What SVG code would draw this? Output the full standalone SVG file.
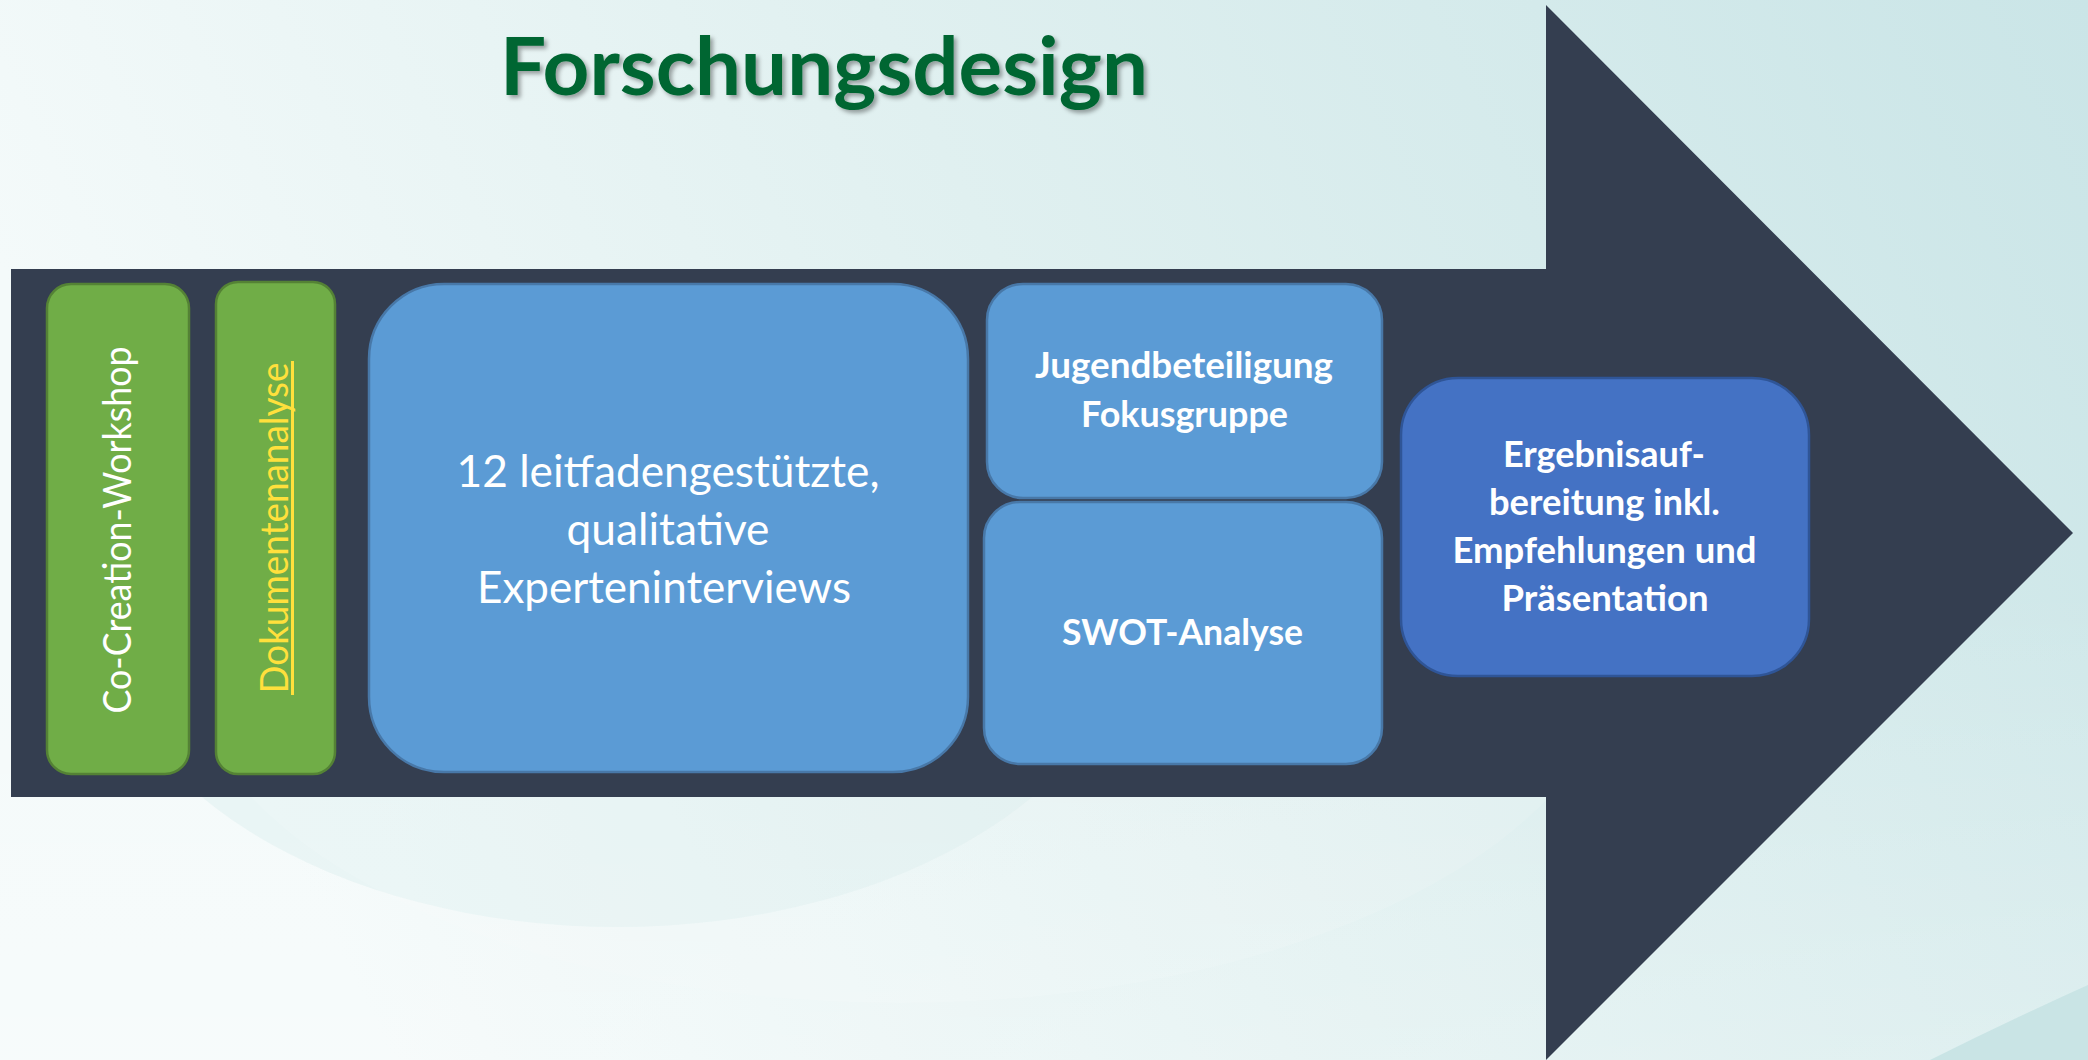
<svg xmlns="http://www.w3.org/2000/svg" width="2088" height="1060" viewBox="0 0 2088 1060">
  <defs>
    <linearGradient id="bg" x1="0" y1="0.25" x2="1" y2="0">
      <stop offset="0" stop-color="#f4fafa"/>
      <stop offset="0.45" stop-color="#e0f0f0"/>
      <stop offset="1" stop-color="#cae5e7"/>
    </linearGradient>
    <linearGradient id="bgFade" x1="0" y1="0" x2="0" y2="1">
      <stop offset="0.55" stop-color="#ffffff" stop-opacity="0"/>
      <stop offset="1" stop-color="#ffffff" stop-opacity="0.25"/>
    </linearGradient>
    <clipPath id="lowerBand">
      <rect x="0" y="797" width="2088" height="263"/>
    </clipPath>
    <filter id="titleShadow" x="-5%" y="-20%" width="110%" height="150%">
      <feDropShadow dx="3" dy="3" stdDeviation="2" flood-color="#000000" flood-opacity="0.35"/>
    </filter>
    <style>
      .lbl { font-family: Lato, "Open Sans", "Liberation Sans", sans-serif; fill: #ffffff; }
      .b { font-weight: 700; font-size: 36.5px; }
      .r { font-weight: 400; }
      .green { fill: #70ad47; stroke: #548235; stroke-width: 2.5; }
      .blue { fill: #5b9bd5; stroke: #4878a8; stroke-width: 2.5; }
      .dblue { fill: #4472c4; stroke: #2f5597; stroke-width: 2.5; }
    </style>
  </defs>

  <!-- background -->
  <rect x="0" y="0" width="2088" height="1060" fill="url(#bg)"/>
  <rect x="0" y="0" width="2088" height="1060" fill="url(#bgFade)"/>
  <g clip-path="url(#lowerBand)">
    <ellipse cx="617" cy="600" rx="520" ry="327" fill="#d3ebeb" opacity="0.35"/>
    <ellipse cx="900" cy="640" rx="720" ry="363" fill="#ffffff" opacity="0.12"/>
  </g>
  <path d="M1930 1060 Q2010 1020 2088 985 L2088 1060 Z" fill="#c9e4e5"/>

  <!-- title -->
  <text x="500" y="95" textLength="648" lengthAdjust="spacingAndGlyphs" filter="url(#titleShadow)" style="font-family: Lato, 'Open Sans', 'Liberation Sans', sans-serif; font-weight: 700; font-size: 80px; fill: #006633;">Forschungsdesign</text>

  <!-- process arrow backdrop -->
  <g id="process-arrow">
    <path d="M11 269 L1546 269 L1546 5 L2073 533 L1546 1060 L1546 797 L11 797 Z" fill="#343e50"/>
  </g>

  <g id="connectors"></g>

  <g id="co-creation-workshop">
    <rect class="green" x="47" y="284" width="142" height="490" rx="24"/>
    <text class="lbl r" transform="translate(131 530) rotate(-90)" x="0" y="0" text-anchor="middle" font-size="38" textLength="367" lengthAdjust="spacingAndGlyphs">Co-Creation-Workshop</text>
  </g>

  <g id="dokumentenanalyse">
    <rect class="green" x="216" y="282" width="119" height="492" rx="22"/>
    <text class="lbl r" transform="translate(288 528) rotate(-90)" x="0" y="0" text-anchor="middle" font-size="38" textLength="331" lengthAdjust="spacingAndGlyphs" style="fill: #ffe03c;">Dokumentenanalyse</text>
    <rect x="291" y="361" width="3" height="334" fill="#ffe03c"/>
  </g>

  <g id="experteninterviews">
    <rect class="blue" x="369" y="284" width="599" height="488" rx="75"/>
    <text class="lbl r" x="668" y="487" text-anchor="middle" font-size="44" textLength="423" lengthAdjust="spacingAndGlyphs">12 leitfadengestützte,</text>
    <text class="lbl r" x="668" y="545" text-anchor="middle" font-size="44" textLength="203" lengthAdjust="spacingAndGlyphs">qualitative</text>
    <text class="lbl r" x="664" y="603" text-anchor="middle" font-size="44" textLength="374" lengthAdjust="spacingAndGlyphs">Experteninterviews</text>
  </g>

  <g id="jugendbeteiligung">
    <rect class="blue" x="987" y="284" width="395" height="214" rx="36"/>
    <text class="lbl b" x="1184" y="378" text-anchor="middle" textLength="298" lengthAdjust="spacingAndGlyphs">Jugendbeteiligung</text>
    <text class="lbl b" x="1184.5" y="427" text-anchor="middle" textLength="207" lengthAdjust="spacingAndGlyphs">Fokusgruppe</text>
  </g>

  <g id="swot-analyse">
    <rect class="blue" x="984" y="502" width="398" height="262" rx="36"/>
    <text class="lbl b" x="1182.5" y="645" text-anchor="middle" textLength="241" lengthAdjust="spacingAndGlyphs">SWOT-Analyse</text>
  </g>

  <g id="ergebnisaufbereitung">
    <rect class="dblue" x="1401" y="378" width="408" height="298" rx="57"/>
    <text class="lbl b" x="1604" y="467" text-anchor="middle" textLength="202" lengthAdjust="spacingAndGlyphs">Ergebnisauf-</text>
    <text class="lbl b" x="1604.5" y="515" text-anchor="middle" textLength="231" lengthAdjust="spacingAndGlyphs">bereitung inkl.</text>
    <text class="lbl b" x="1604.5" y="563" text-anchor="middle" textLength="304" lengthAdjust="spacingAndGlyphs">Empfehlungen und</text>
    <text class="lbl b" x="1605" y="611" text-anchor="middle" textLength="207" lengthAdjust="spacingAndGlyphs">Präsentation</text>
  </g>
</svg>
